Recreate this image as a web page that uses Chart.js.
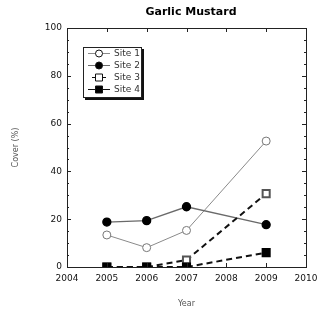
<!DOCTYPE html>
<html>
<head>
<meta charset="utf-8">
<script src="https://cdn.jsdelivr.net/npm/chart.js@4"></script>
<style>
  html, body { margin: 0; padding: 0; background: #fff; }
  #wrap { width: 317px; height: 309px; }
</style>
</head>
<body>
<div id="wrap"><canvas id="GarlicMustard"></canvas></div>
<script>
var years = [2005, 2006, 2007, 2009];
var site1 = [13.4, 8.1, 15.3, 52.7];
var site2 = [18.8, 19.4, 25.2, 17.7];
var site3 = [0, 0, 2.9, 30.7];
var site4 = [0, 0, 0, 6.0];
var siteNames = ["Site 1", "Site 2", "Site 3", "Site 4"];
var xTicks = [2004, 2005, 2006, 2007, 2008, 2009, 2010];
var yTicks = [0, 20, 40, 60, 80, 100];

function points(vals) {
    return vals.map(function(v, i) { return { x: years[i], y: v }; });
}

var font = "'DejaVu Sans', sans-serif";

// frame with inward ticks, like the old plotting program
var framePlugin = {
    id: 'frame',
    afterDraw: function(chart) {
        var ctx = chart.ctx, a = chart.chartArea;
        var xs = chart.scales.x, ys = chart.scales.y;
        ctx.save();
        ctx.strokeStyle = '#222';
        ctx.lineWidth = 1;
        ctx.strokeRect(a.left + 0.5, a.top + 0.5, a.right - a.left, a.bottom - a.top);
        ctx.beginPath();
        xTicks.forEach(function(t) {
            var px = Math.round(xs.getPixelForValue(t)) + 0.5;
            ctx.moveTo(px, a.top); ctx.lineTo(px, a.top + 4);
            ctx.moveTo(px, a.bottom); ctx.lineTo(px, a.bottom - 4);
        });
        for (var v = 0; v <= 100; v += 5) {
            var py = Math.round(ys.getPixelForValue(v)) + 0.5;
            var len = (v % 20 === 0) ? 4 : 2;
            ctx.moveTo(a.left, py); ctx.lineTo(a.left + len, py);
            ctx.moveTo(a.right, py); ctx.lineTo(a.right - len, py);
        }
        ctx.stroke();
        ctx.restore();
    }
};

// boxed legend with drop shadow inside the plot
var legendBox = {
    id: 'legendBox',
    afterDraw: function(chart) {
        var ctx = chart.ctx;
        var x0 = 83, y0 = 47, w = 59, h = 51;
        ctx.save();
        ctx.fillStyle = '#111';
        ctx.fillRect(x0 + 2, y0 + 2, w, h);
        ctx.fillStyle = '#fff';
        ctx.fillRect(x0, y0, w, h);
        ctx.strokeStyle = '#222';
        ctx.lineWidth = 1;
        ctx.strokeRect(x0 + 0.5, y0 + 0.5, w - 1, h - 1);
        chart.data.datasets.forEach(function(ds, i) {
            var y = 53.5 + i * 12;
            var half = (i === 2) ? 7 : 11;
            ctx.strokeStyle = ds.borderColor;
            ctx.lineWidth = 1;
            ctx.setLineDash([]);
            ctx.beginPath();
            ctx.moveTo(99 - half, y); ctx.lineTo(99 + half, y);
            ctx.stroke();
            ctx.fillStyle = ds.pointBackgroundColor;
            ctx.strokeStyle = '#111';
            ctx.beginPath();
            if (ds.pointStyle === 'rect') {
                ctx.rect(95.5, y - 3.5, 7, 7);
            } else {
                ctx.arc(99, y, 3.5, 0, Math.PI * 2);
            }
            ctx.fill();
            ctx.stroke();
            ctx.fillStyle = '#333';
            ctx.font = '9px ' + font;
            ctx.textBaseline = 'middle';
            ctx.fillText(ds.label, 114, y + 0.5);
        });
        ctx.fillStyle = '#000';
        ctx.font = 'bold 11px ' + font;
        ctx.textAlign = 'center';
        ctx.textBaseline = 'middle';
        ctx.fillText('Garlic Mustard', 191, 12);
        ctx.restore();
    }
};

var chartdata = {
    datasets: [
        {
            label: siteNames[0],
            data: points(site1),
            order: 3,
            borderColor: '#8a8a8a',
            borderWidth: 1,
            pointStyle: 'circle',
            pointRadius: 4,
            pointBackgroundColor: '#fff',
            pointBorderColor: '#777'
        },
        {
            label: siteNames[1],
            data: points(site2),
            order: 2,
            borderColor: '#6a6a6a',
            borderWidth: 1.3,
            pointStyle: 'circle',
            pointRadius: 4,
            pointBackgroundColor: '#000',
            pointBorderColor: '#000'
        },
        {
            label: siteNames[2],
            data: points(site3),
            order: 1,
            borderColor: '#111',
            borderWidth: 2,
            borderDash: [6, 4],
            pointStyle: 'rect',
            pointRadius: 5,
            pointBackgroundColor: '#fff',
            pointBorderColor: '#555'
        },
        {
            label: siteNames[3],
            data: points(site4),
            order: 0,
            borderColor: '#111',
            borderWidth: 2,
            borderDash: [6, 4],
            pointStyle: 'rect',
            pointRadius: 5,
            pointBackgroundColor: '#000',
            pointBorderColor: '#000'
        }
    ]
};

var ctx = document.getElementById("GarlicMustard").getContext("2d");
var myLineChart = new Chart(ctx, {
    type: 'line',
    data: chartdata,
    plugins: [framePlugin, legendBox],
    options: {
        responsive: true,
        maintainAspectRatio: false,
        animation: false,
        layout: { padding: { left: 0, right: 11, top: 28, bottom: 0 } },
        plugins: {
            legend: { display: false },
            title: { display: false },
            tooltip: { enabled: false }
        },
        scales: {
            x: {
                type: 'linear',
                min: 2004,
                max: 2010,
                afterBuildTicks: function(s) { s.ticks = xTicks.map(function(v) { return { value: v }; }); },
                afterFit: function(s) { s.height = 42; s.paddingLeft = 0; s.paddingRight = 0; },
                grid: { display: false, drawTicks: false },
                border: { display: false },
                ticks: {
                    padding: 6,
                    maxRotation: 0,
                    color: '#111',
                    font: { family: font, size: 9 },
                    callback: function(v) { return String(v); }
                },
                title: {
                    display: true,
                    text: 'Year',
                    color: '#555',
                    font: { family: font, size: 8 },
                    padding: { top: 14, bottom: 0 }
                }
            },
            y: {
                min: 0,
                max: 100,
                afterBuildTicks: function(s) { s.ticks = yTicks.map(function(v) { return { value: v }; }); },
                afterFit: function(s) { s.width = 67; s.paddingTop = 0; s.paddingBottom = 0; },
                grid: { display: false, drawTicks: false },
                border: { display: false },
                ticks: {
                    padding: 5,
                    color: '#111',
                    font: { family: font, size: 9 }
                },
                title: {
                    display: true,
                    text: 'Cover (%)',
                    color: '#555',
                    font: { family: font, size: 8 },
                    padding: { top: 11, bottom: 0 }
                }
            }
        }
    }
});
</script>
</body>
</html>
